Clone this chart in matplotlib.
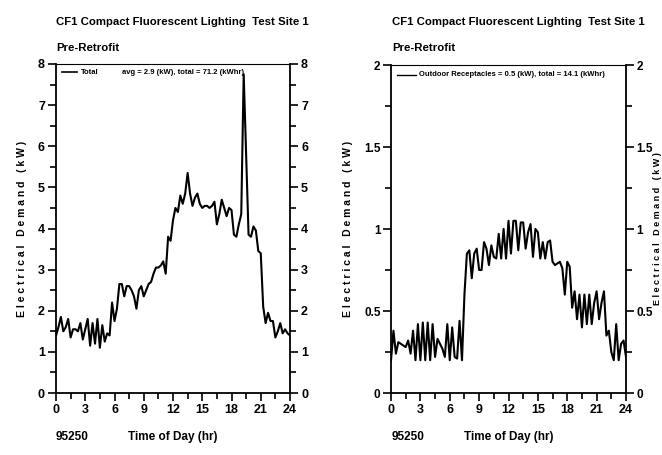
import numpy as np
import matplotlib
matplotlib.use("Agg")
import matplotlib.pyplot as plt
from matplotlib.ticker import MultipleLocator, FuncFormatter

plt.rcParams['font.family'] = ['Liberation Sans', 'DejaVu Sans']

## data, 15 minute readings
total_kw = [1.4, 1.6, 1.85, 1.5, 1.6, 1.8, 1.35, 1.55, 1.55, 1.5, 1.7, 1.3,
            1.55, 1.8, 1.15, 1.7, 1.2, 1.8, 1.1, 1.65, 1.25, 1.45, 1.4, 2.2,
            1.75, 2.05, 2.65, 2.65, 2.35, 2.6, 2.6, 2.5, 2.35, 2.05, 2.5, 2.6,
            2.35, 2.5, 2.65, 2.7, 2.9, 3.05, 3.05, 3.1, 3.2, 2.9, 3.8, 3.7,
            4.2, 4.5, 4.4, 4.8, 4.6, 4.85, 5.35, 4.85, 4.55, 4.75, 4.85, 4.6,
            4.5, 4.55, 4.55, 4.5, 4.55, 4.65, 4.1, 4.35, 4.7, 4.5, 4.3, 4.5,
            4.45, 3.85, 3.8, 4.1, 4.35, 7.75, 5.8, 3.85, 3.8, 4.05, 3.95, 3.45,
            3.4, 2.1, 1.7, 1.95, 1.75, 1.75, 1.35, 1.5, 1.7, 1.45, 1.55, 1.45,
            1.4]
outdoor_kw = [0.2, 0.38, 0.24, 0.31, 0.3, 0.29, 0.28, 0.32, 0.24, 0.38, 0.2, 0.42,
              0.2, 0.43, 0.2, 0.43, 0.2, 0.42, 0.22, 0.33, 0.3, 0.27, 0.22, 0.42,
              0.2, 0.4, 0.22, 0.21, 0.44, 0.2, 0.6, 0.85, 0.87, 0.7, 0.85, 0.88,
              0.75, 0.75, 0.92, 0.88, 0.78, 0.9, 0.83, 0.82, 0.97, 0.82, 1.0, 0.82,
              1.05, 0.85, 1.05, 1.05, 0.87, 1.04, 1.04, 0.88, 0.98, 1.03, 0.83, 1.0,
              0.98, 0.82, 0.92, 0.82, 0.92, 0.93, 0.8, 0.78, 0.79, 0.8, 0.76, 0.6,
              0.8, 0.77, 0.52, 0.62, 0.45, 0.6, 0.4, 0.6, 0.42, 0.6, 0.42, 0.55,
              0.62, 0.45, 0.55, 0.62, 0.35, 0.38, 0.25, 0.2, 0.42, 0.2, 0.3, 0.32,
              0.22]
hours = np.arange(len(total_kw)) * 0.25

title1 = "CF1 Compact Fluorescent Lighting  Test Site 1"
title2 = "Pre-Retrofit"
leg_left = ["Total", "avg = 2.9 (kW), total = 71.2 (kWhr)"]
leg_right = "Outdoor Receptacles = 0.5 (kW), total = 14.1 (kWhr)"
ylab = "E l e c t r i c a l   D e m a n d   ( k W )"

fig = plt.figure(figsize=(6.62, 4.55), dpi=100)
ax1 = fig.add_axes([56/662, 62/455, 234/662, 329/455])
ax2 = fig.add_axes([391/662, 62/455, 235/662, 328/455])


def style(ax, ymax, ymaj, ymin):
    ax.set_xlim(0, 24)
    ax.set_ylim(0, ymax)
    ax.xaxis.set_major_locator(MultipleLocator(3))
    ax.xaxis.set_minor_locator(MultipleLocator(1.5))
    ax.yaxis.set_major_locator(MultipleLocator(ymaj))
    ax.yaxis.set_minor_locator(MultipleLocator(ymin))
    ax.yaxis.set_major_formatter(FuncFormatter(lambda v, p: '%g' % v))
    ax.tick_params(which='both', direction='out', width=1.2, labelsize=9,
                   right=True, labelright=True, top=False, pad=2)
    ax.tick_params(which='major', length=6)
    ax.tick_params(which='minor', length=4)
    for s in ax.spines.values():
        s.set_linewidth(1.3)
    ax.spines['top'].set_linewidth(0.8)
    for lab in ax.get_xticklabels() + ax.get_yticklabels():
        lab.set_fontweight('bold')
    ax.set_xlabel("Time of Day (hr)", fontsize=8.5, fontweight='bold', labelpad=11)


ax1.plot(hours, total_kw, color='black', lw=1.5)
style(ax1, 8, 1, 0.5)
ax1.set_ylabel(ylab, fontsize=7.5, fontweight='bold', labelpad=8)
ax1.plot([0.6, 2.2], [7.8, 7.8], color='black', lw=1.2)
ax1.text(2.6, 7.8, leg_left[0], fontsize=5.5, fontweight='bold', va='center')
ax1.text(6.8, 7.8, leg_left[1], fontsize=5.5, fontweight='bold', va='center')

ax2.plot(hours, outdoor_kw, color='black', lw=1.5)
style(ax2, 2, 0.5, 0.25)
ax2.tick_params(axis='y', labelsize=8.5, pad=1.5)
ax2.set_ylabel(ylab, fontsize=7.5, fontweight='bold', labelpad=8)
ax2.text(1 + 31 / 235, 0.5, ylab, transform=ax2.transAxes, rotation=90,
         fontsize=6.5, fontweight='bold', va='center', ha='center')
ax2.plot([0.6, 2.6], [1.94, 1.94], color='black', lw=1.0)
ax2.text(2.9, 1.94, leg_right, fontsize=5.5, fontweight='bold', va='center')

for x0 in (56, 392):
    fig.text(x0/662, 1 - 22/455, title1, fontsize=8.2, fontweight='bold', va='center')
    fig.text(x0/662, 1 - 48/455, title2, fontsize=8.2, fontweight='bold', va='center')
    fig.text(x0/662, 1 - 437/455, "95250", fontsize=8.5, fontweight='bold', va='center')

fig.savefig("out.png", dpi=100)
